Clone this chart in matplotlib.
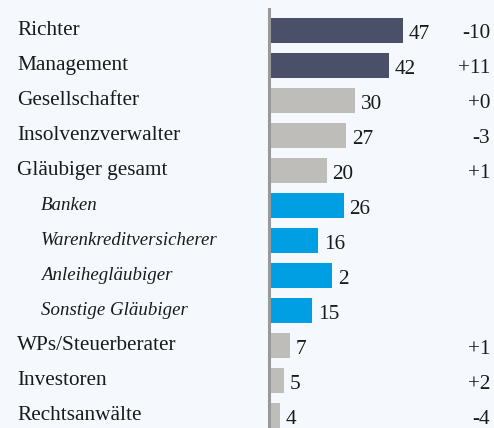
import matplotlib
matplotlib.use("Agg")
import matplotlib.pyplot as plt
from matplotlib import transforms

categories = ["Richter", "Management", "Gesellschafter", "Insolvenzverwalter",
              "Gläubiger gesamt", "Banken", "Warenkreditversicherer",
              "Anleihegläubiger", "Sonstige Gläubiger", "WPs/Steuerberater",
              "Investoren", "Rechtsanwälte"]
bar_values = [47, 42, 30, 27, 20, 26, 17, 22, 15, 7, 5, 3.5]
value_labels = ["47", "42", "30", "27", "20", "26", "16", "2", "15", "7", "5", "4"]
changes = ["-10", "+11", "+0", "-3", "+1", "", "", "", "", "+1", "+2", "-4"]
groups = ["top", "top", "base", "base", "base", "sub", "sub", "sub", "sub",
          "base", "base", "base"]

colors = {"top": "#4a5068", "base": "#bfbdb9", "sub": "#009fe3"}
bg = "#f5f9fd"

W, H = 494, 428
fig = plt.figure(figsize=(W / 100, H / 100), dpi=100, facecolor=bg)
ax = fig.add_axes([270 / W, 0, 224 / W, 419 / H])
ax.set_facecolor(bg)

ys = list(range(len(categories)))
ax.barh(ys, bar_values, height=0.714, left=0,
        color=[colors[g] for g in groups], zorder=2)
ax.set_xlim(0, 224 / 2.83)
ax.set_ylim(11.357, -0.614)
ax.axvline(-0.3, color="#999999", lw=2.2, zorder=3, clip_on=False)

for s in ax.spines.values():
    s.set_visible(False)
ax.set_xticks([])
ax.set_yticks([])

serif = ["Liberation Serif", "DejaVu Serif"]
txt_color = "#1a1a1a"

def px_offset(dx, dy):
    return transforms.offset_copy(ax.transData, fig=fig, x=dx * 0.72, y=-dy * 0.72,
                                  units="points")

# category labels (left)
for y, cat, g in zip(ys, categories, groups):
    if g == "sub":
        xpix, style, size = 41, "italic", 13.6
    else:
        xpix, style, size = 17, "normal", 15.3
    tr = transforms.blended_transform_factory(fig.transFigure, ax.transData)
    tr = tr + transforms.ScaledTranslation(0, -4.5 / 100, fig.dpi_scale_trans)
    fig.text(xpix / W, y, cat, transform=tr, ha="left", va="baseline",
             fontsize=size, fontstyle=style, family=serif, color=txt_color)

# value labels
for y, v, lab in zip(ys, bar_values, value_labels):
    ax.text(v, y, lab, transform=px_offset(6, 8.5), ha="left", va="baseline",
            fontsize=15.3, family=serif, color=txt_color)

# change column
for y, ch in zip(ys, changes):
    if ch:
        tr = transforms.blended_transform_factory(fig.transFigure, ax.transData)
        tr = tr + transforms.ScaledTranslation(0, -8 / 100, fig.dpi_scale_trans)
        fig.text(490 / W, y, ch, transform=tr, ha="right", va="baseline",
                 fontsize=15.3, family=serif, color=txt_color)

fig.savefig("out.png", dpi=100, facecolor=bg)
